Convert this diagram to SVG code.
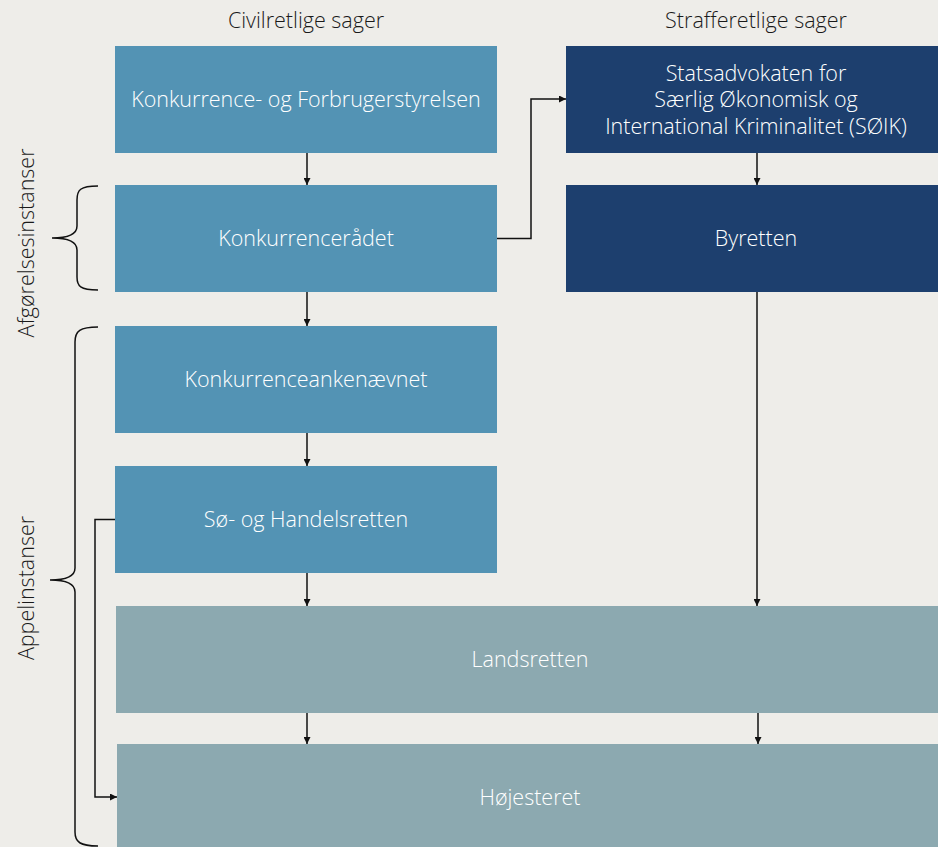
<svg xmlns="http://www.w3.org/2000/svg" width="938" height="847" viewBox="0 0 938 847">
<defs>
<style>
.bg{fill:#eeede9}
.b1{fill:#5393b4}
.b2{fill:#1d3f6e}
.b3{fill:#8ca9b0}
.t{font-family:"Open Sans","Noto Sans",sans-serif;font-weight:300;font-size:21.5px;fill:#ffffff;text-anchor:middle;dominant-baseline:central}
.h{font-family:"Open Sans","Noto Sans",sans-serif;font-weight:300;font-size:21.5px;fill:#1a1a1a;text-anchor:middle;dominant-baseline:central}
.c{fill:none;stroke:#111;stroke-width:1.5}
.br{fill:none;stroke:#111;stroke-width:1.5}
</style>
<marker id="ah" viewBox="0 0 10 10" refX="10" refY="5" markerWidth="7" markerHeight="7" markerUnits="userSpaceOnUse" orient="auto">
<path d="M0,0 L10,5 L0,10 z" fill="#111"/>
</marker>
</defs>
<rect class="bg" x="0" y="0" width="938" height="847"/>
<text class="h" x="306" y="19">Civilretlige sager</text>
<text class="h" x="756" y="19">Strafferetlige sager</text>
<text class="h" transform="translate(25,243) rotate(-90)">Afgørelsesinstanser</text>
<text class="h" transform="translate(25,588) rotate(-90)">Appelinstanser</text>
<g id="braces">
<path class="br" d="M98,186 C80,186 77,190 77,200 L77,226 C77,234 70,238 52,238 C70,238 77,242 77,250 L77,277 C77,286 80,290 98,290"/>
<path class="br" d="M98,327 C80,327 75,331 75,342 L75,568 C75,576 68,580 50,580 C68,580 75,584 75,592 L75,832 C75,842 80,846 98,846"/>
</g>
<g id="kfst"><rect class="b1" x="115" y="46" width="382" height="107"/><text class="t" x="306" y="98.5">Konkurrence- og Forbrugerstyrelsen</text></g>
<g id="kr"><rect class="b1" x="115" y="185" width="382" height="107"/><text class="t" x="306" y="237.5">Konkurrencerådet</text></g>
<g id="kan"><rect class="b1" x="115" y="326" width="382" height="107"/><text class="t" x="306" y="378.5">Konkurrenceankenævnet</text></g>
<g id="sh"><rect class="b1" x="115" y="466" width="382" height="107"/><text class="t" x="306" y="518.5">Sø- og Handelsretten</text></g>
<g id="soik"><rect class="b2" x="566" y="46" width="372" height="107"/><text class="t" x="756" y="72">Statsadvokaten for</text><text class="t" x="756" y="98.5">Særlig Økonomisk og</text><text class="t" x="756" y="125">International Kriminalitet (SØIK)</text></g>
<g id="byretten"><rect class="b2" x="566" y="185" width="372" height="107"/><text class="t" x="756" y="237.5">Byretten</text></g>
<g id="landsretten"><rect class="b3" x="116" y="606" width="822" height="107"/><text class="t" x="530" y="658.5">Landsretten</text></g>
<g id="hojesteret"><rect class="b3" x="117" y="744" width="821" height="103"/><text class="t" x="530" y="796.5">Højesteret</text></g>
<g id="connectors">
<path class="c" d="M307,153 V185" marker-end="url(#ah)"/>
<path class="c" d="M307,292 V326" marker-end="url(#ah)"/>
<path class="c" d="M307,433 V466" marker-end="url(#ah)"/>
<path class="c" d="M307,573 V606" marker-end="url(#ah)"/>
<path class="c" d="M307,713 V744" marker-end="url(#ah)"/>
<path class="c" d="M757,153 V185" marker-end="url(#ah)"/>
<path class="c" d="M757,292 V606" marker-end="url(#ah)"/>
<path class="c" d="M758,713 V744" marker-end="url(#ah)"/>
<path class="c" d="M497,238.5 H531 V99 H566" marker-end="url(#ah)"/>
<path class="c" d="M115,519.5 H95 V797 H117" marker-end="url(#ah)"/>
</g>
</svg>
